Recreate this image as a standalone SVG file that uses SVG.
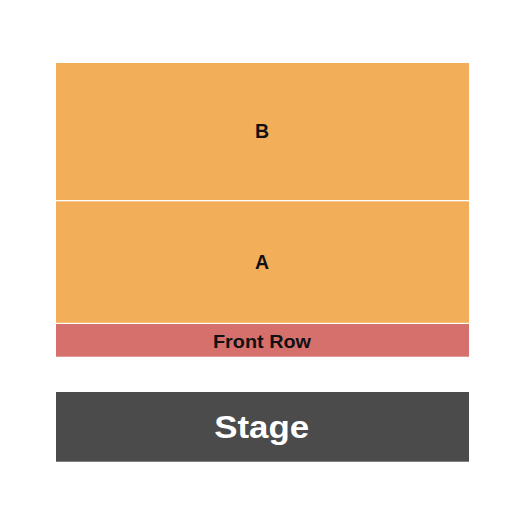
<svg xmlns="http://www.w3.org/2000/svg" width="525" height="525" viewBox="0 0 525 525">
<style>
.sec{fill:#F2AE59}
.fr{fill:#D6706D}
.stage{fill:#4B4B4B}
.lbl{font-family:"Liberation Sans",Arial,sans-serif;font-weight:bold;text-anchor:middle;fill:#111}
</style>
<rect width="525" height="525" fill="#fff"/>
<g id="section-B"><rect class="sec" x="56" y="63" width="413" height="137"/><text class="lbl" x="262" y="137.7" font-size="19.5">B</text></g>
<g id="section-A"><rect class="sec" x="56" y="201.3" width="413" height="121.5"/><text class="lbl" x="262" y="269" font-size="19.5">A</text></g>
<g id="front-row"><rect class="fr" x="56" y="324" width="413" height="32.7"/><text class="lbl" x="262" y="347.7" font-size="18.5" textLength="98" lengthAdjust="spacingAndGlyphs">Front Row</text></g>
<g id="stage"><rect class="stage" x="56" y="392" width="413" height="69.7"/><text class="lbl" x="261.7" y="437.5" font-size="32" style="fill:#fff" textLength="95" lengthAdjust="spacingAndGlyphs">Stage</text></g>
<g id="connectors"/>
</svg>
